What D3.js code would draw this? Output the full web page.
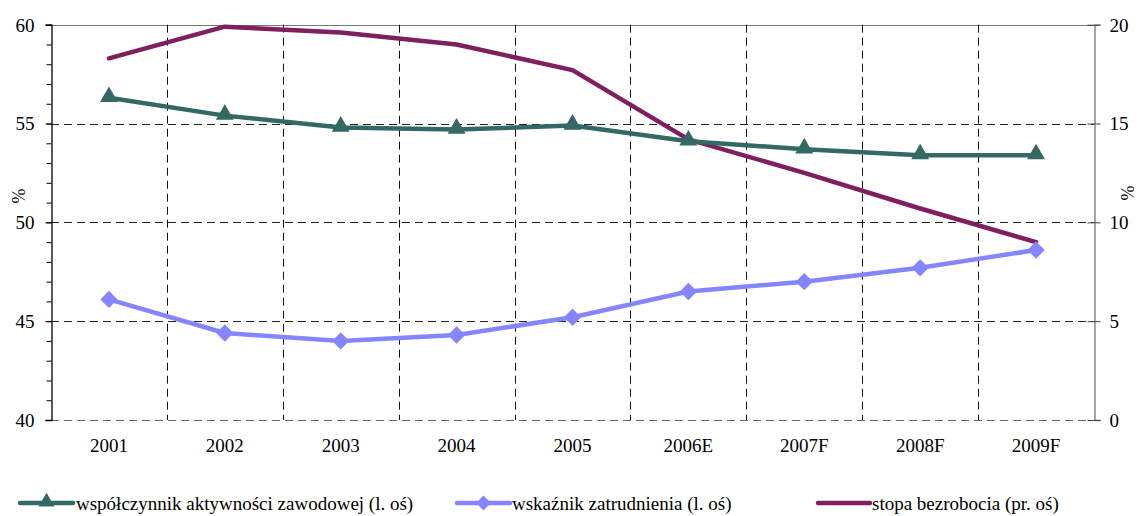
<!DOCTYPE html>
<html>
<head>
<meta charset="utf-8">
<script src="https://cdn.jsdelivr.net/npm/d3@7"></script>
<style>
  html, body { margin: 0; padding: 0; background: #fff; }
  svg text { font-family: "Liberation Serif", Tinos, "Times New Roman", Times, "DejaVu Serif", serif !important; fill: #000; }
</style>
</head>
<body>
<svg id="chart" width="1139" height="516"></svg>
<script>
const categories = ["2001", "2002", "2003", "2004", "2005", "2006E", "2007F", "2008F", "2009F"];
const activityRate = [56.3, 55.4, 54.8, 54.7, 54.9, 54.1, 53.7, 53.4, 53.4];
const employmentRate = [46.1, 44.4, 44.0, 44.3, 45.2, 46.5, 47.0, 47.7, 48.6];
const unemploymentRate = [18.3, 19.9, 19.6, 19.0, 17.7, 14.2, 12.5, 10.7, 9.0];
const leftTicks = [40, 45, 50, 55, 60];
const rightTicks = [0, 5, 10, 15, 20];
const seriesNames = ["współczynnik aktywności zawodowej (l. oś)", "wskaźnik zatrudnienia (l. oś)", "stopa bezrobocia (pr. oś)"];

const colGreen = "#336864", colBlue = "#8585ff", colPurple = "#7f1f5f";
const FONT = '"Liberation Serif", Tinos, "Times New Roman", Times, "DejaVu Serif", serif';

const svg = d3.select("#chart");
const L = 51, R = 1094, T = 24.7, B = 420;

const x = d3.scaleBand().domain(categories).range([L, R]).padding(0);
const yL = d3.scaleLinear().domain([40, 60]).range([B, T]);
const yR = d3.scaleLinear().domain([0, 20]).range([B, T]);

const grid = svg.append("g");
grid.selectAll("line.h").data(leftTicks.filter(d => d < 60)).join("line")
  .attr("x1", L).attr("x2", R)
  .attr("y1", d => Math.round(yL(d)) + 0.5).attr("y2", d => Math.round(yL(d)) + 0.5)
  .attr("stroke", d => d === 40 ? "#666" : "#222").attr("stroke-width", 1).attr("stroke-dasharray", "8,5");
grid.append("line").attr("x1", L).attr("x2", R).attr("y1", Math.round(T) + 0.5).attr("y2", Math.round(T) + 0.5)
  .attr("stroke", "#777").attr("stroke-width", 1.2);
grid.selectAll("line.v").data(categories.slice(1)).join("line")
  .attr("x1", d => Math.round(x(d)) + 0.5).attr("x2", d => Math.round(x(d)) + 0.5)
  .attr("y1", T).attr("y2", B)
  .attr("stroke", "#111").attr("stroke-width", 1).attr("stroke-dasharray", "8,5");

const leftAxisG = svg.append("g").attr("transform", `translate(${L + 0.5},0)`);
leftAxisG.call(d3.axisLeft(yL).ticks(20).tickSize(5).tickFormat(""));
leftAxisG.call(g => g.select(".domain").remove());
leftAxisG.selectAll("line").attr("stroke", "#000");
const leftMajor = svg.append("g").attr("transform", `translate(${L + 0.5},0)`)
  .call(d3.axisLeft(yL).tickValues(leftTicks).tickSize(6).tickPadding(11).tickFormat(d3.format("d")));
leftMajor.attr("font-family", FONT);
leftMajor.select(".domain").attr("stroke", "#000").attr("stroke-width", 1.3);
leftMajor.selectAll("line").attr("stroke", "#000");
leftMajor.selectAll("text").style("font-size", "19px").attr("dy", "0.34em");

const rightAxis = svg.append("g").attr("transform", `translate(${R + 0.5},0)`)
  .call(d3.axisRight(yR).tickValues(rightTicks).tickSize(6).tickPadding(9).tickFormat(d3.format("d")));
rightAxis.attr("font-family", FONT);
rightAxis.select(".domain").attr("stroke", "#777").attr("stroke-width", 1.3);
rightAxis.selectAll(".tick line").attr("x1", -7).attr("stroke", "#444");
rightAxis.selectAll("text").style("font-size", "19px").attr("dy", "0.34em");

const xAxis = svg.append("g").attr("transform", `translate(0,${B})`)
  .call(d3.axisBottom(x).tickSize(0).tickPadding(19));
xAxis.attr("font-family", FONT);
xAxis.select(".domain").remove();
xAxis.selectAll("text").style("font-size", "19px");

svg.append("text").attr("transform", `translate(25,196) rotate(-90)`).attr("text-anchor", "middle")
  .style("font-size", "18px").text("%");
svg.append("text").attr("transform", `translate(1134,193) rotate(-90)`).attr("text-anchor", "middle")
  .style("font-size", "18px").text("%");

const cx = d => x(d) + x.bandwidth() / 2;

const lineL = d3.line().x((d, i) => cx(categories[i])).y(d => yL(d));
const lineR = d3.line().x((d, i) => cx(categories[i])).y(d => yR(d));

svg.append("path").datum(unemploymentRate).attr("d", lineR)
  .attr("fill", "none").attr("stroke", colPurple).attr("stroke-width", 4.5).attr("stroke-linejoin", "round").attr("stroke-linecap", "round");
svg.append("path").datum(activityRate).attr("d", lineL)
  .attr("fill", "none").attr("stroke", colGreen).attr("stroke-width", 4.5).attr("stroke-linejoin", "round");
svg.append("path").datum(employmentRate).attr("d", lineL)
  .attr("fill", "none").attr("stroke", colBlue).attr("stroke-width", 4.5).attr("stroke-linejoin", "round");

const tri = d3.symbol().type(d3.symbolTriangle).size(140);
const dia = d3.symbol().type(d3.symbolSquare).size(150);

svg.append("g").selectAll("path").data(activityRate).join("path")
  .attr("d", tri)
  .attr("transform", (d, i) => `translate(${cx(categories[i])},${yL(d) - 1})`)
  .attr("fill", colGreen);
svg.append("g").selectAll("path").data(employmentRate).join("path")
  .attr("d", dia)
  .attr("transform", (d, i) => `translate(${cx(categories[i])},${yL(d)}) rotate(45)`)
  .attr("fill", colBlue);

const legend = svg.append("g");
const legendItems = [
  { name: seriesNames[0], color: colGreen, marker: "tri", x0: 20, x1: 73, tx: 76 },
  { name: seriesNames[1], color: colBlue, marker: "dia", x0: 457, x1: 510, tx: 512 },
  { name: seriesNames[2], color: colPurple, marker: null, x0: 818, x1: 870, tx: 872 }
];
const ly = 503;
legendItems.forEach(it => {
  legend.append("line").attr("x1", it.x0).attr("x2", it.x1).attr("y1", ly).attr("y2", ly)
    .attr("stroke", it.color).attr("stroke-width", 4.5).attr("stroke-linecap", "round");
  if (it.marker === "tri") {
    legend.append("path").attr("d", d3.symbol().type(d3.symbolTriangle).size(110))
      .attr("transform", `translate(${(it.x0 + it.x1) / 2},${ly - 1})`).attr("fill", it.color);
  } else if (it.marker === "dia") {
    legend.append("path").attr("d", d3.symbol().type(d3.symbolSquare).size(110))
      .attr("transform", `translate(${(it.x0 + it.x1) / 2},${ly}) rotate(45)`).attr("fill", it.color);
  }
  legend.append("text").attr("x", it.tx).attr("y", ly).attr("dy", "0.36em")
    .style("font-size", "19px").text(it.name);
});
</script>
</body>
</html>
